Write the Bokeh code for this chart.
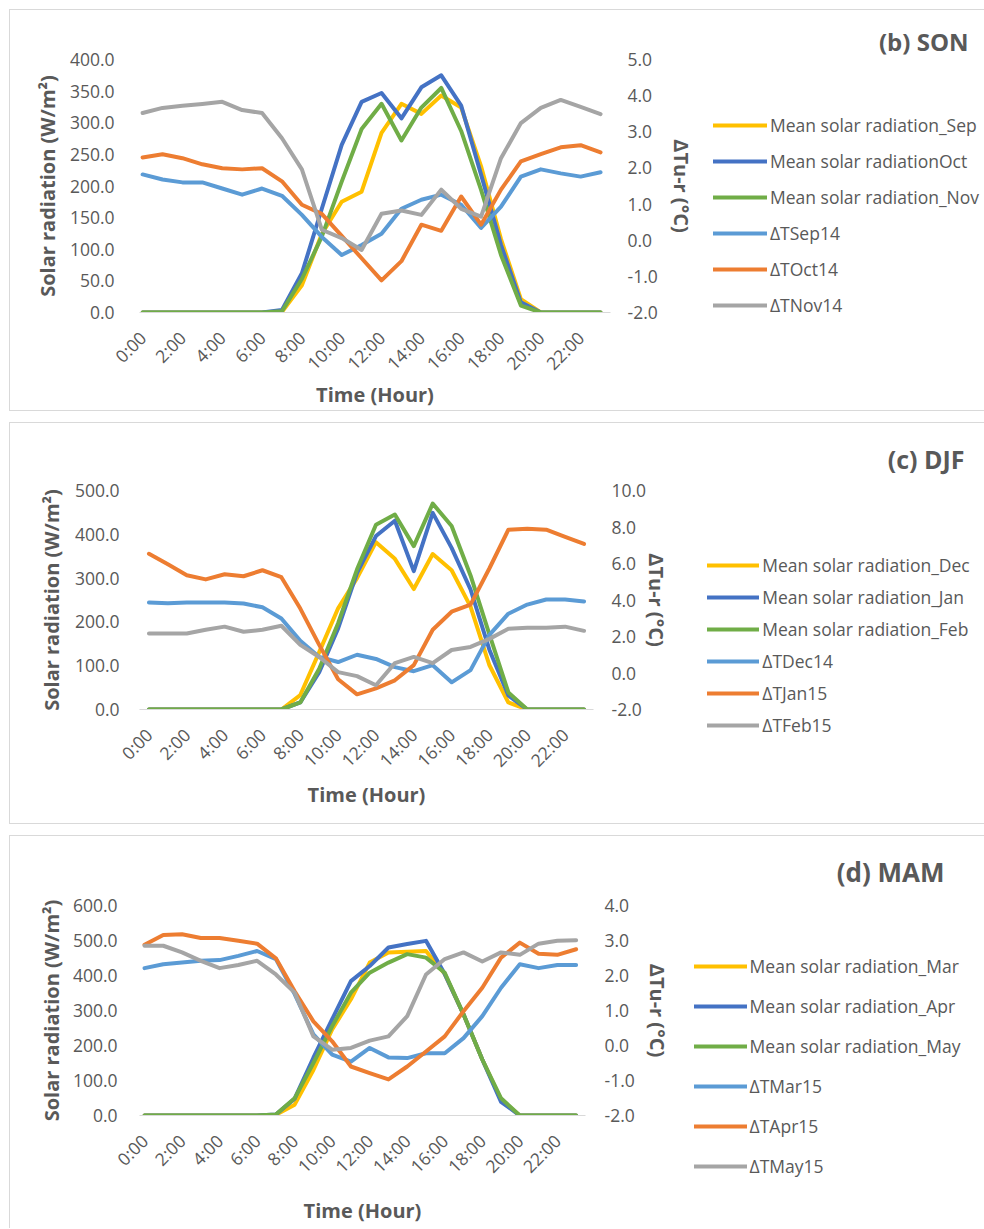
import math
from bokeh.plotting import figure
from bokeh.models import (Range1d, LinearAxis, FixedTicker, PrintfTickFormatter,
                          Legend, LegendItem, Title, ColumnDataSource)
from bokeh.layouts import column
from bokeh.embed import file_html
from bokeh.resources import INLINE

# ---------------- data ----------------
hours = list(range(24))
hour_ticks = [0, 2, 4, 6, 8, 10, 12, 14, 16, 18, 20, 22]
hour_labels = ["0:00", "2:00", "4:00", "6:00", "8:00", "10:00", "12:00",
               "14:00", "16:00", "18:00", "20:00", "22:00"]

# (b) SON
son_names = ["Mean solar radiation_Sep", "Mean solar radiationOct", "Mean solar radiation_Nov",
             "\u0394TSep14", "\u0394TOct14", "\u0394TNov14"]
sep_sr = [0, 0, 0, 0, 0, 0, 0, 1, 43, 124, 175, 191, 284, 330, 314, 343, 324, 231, 116, 21, 0, 0, 0, 0]
oct_sr = [0, 0, 0, 0, 0, 0, 0, 4, 62, 164, 265, 333, 347, 307, 356, 375, 327, 218, 107, 16, 0, 0, 0, 0]
nov_sr = [0, 0, 0, 0, 0, 0, 0, 2, 53, 120, 207, 290, 330, 272, 324, 355, 287, 194, 91, 11, 0, 0, 0, 0]
dt_sep14 = [1.82, 1.68, 1.60, 1.60, 1.43, 1.26, 1.43, 1.23, 0.70, 0.09, -0.41, -0.13,
            0.18, 0.87, 1.12, 1.26, 0.98, 0.34, 0.93, 1.76, 1.96, 1.85, 1.76, 1.88]
dt_oct14 = [2.29, 2.38, 2.27, 2.10, 1.99, 1.96, 1.99, 1.63, 0.98, 0.73, 0.12, -0.50,
            -1.11, -0.58, 0.43, 0.26, 1.21, 0.43, 1.40, 2.18, 2.38, 2.57, 2.63, 2.43]
dt_nov14 = [3.52, 3.66, 3.72, 3.77, 3.83, 3.60, 3.52, 2.82, 1.96, 0.29, 0.06, -0.27,
            0.73, 0.82, 0.70, 1.40, 0.87, 0.65, 2.27, 3.24, 3.66, 3.88, 3.69, 3.49]

# (c) DJF
djf_names = ["Mean solar radiation_Dec", "Mean solar radiation_Jan", "Mean solar radiation_Feb",
             "\u0394TDec14", "\u0394TJan15", "\u0394TFeb15"]
dec_sr = [0, 0, 0, 0, 0, 0, 0, 0, 33, 131, 231, 300, 382, 344, 275, 355, 318, 235, 101, 16, 0, 0, 0, 0]
jan_sr = [0, 0, 0, 0, 0, 0, 0, 0, 16, 85, 185, 312, 396, 431, 316, 449, 369, 274, 136, 32, 0, 0, 0, 0]
feb_sr = [0, 0, 0, 0, 0, 0, 0, 0, 16, 93, 197, 320, 422, 445, 373, 470, 419, 306, 171, 39, 0, 0, 0, 0]
dt_dec14 = [3.86, 3.82, 3.86, 3.86, 3.86, 3.81, 3.60, 2.99, 1.76, 0.88, 0.60, 1.00,
            0.77, 0.32, 0.10, 0.43, -0.51, 0.16, 2.09, 3.25, 3.75, 4.03, 4.03, 3.92]
dt_jan15 = [6.53, 5.96, 5.36, 5.13, 5.41, 5.30, 5.63, 5.25, 3.53, 1.54, -0.34, -1.17,
            -0.84, -0.40, 0.43, 2.37, 3.36, 3.75, 5.74, 7.85, 7.90, 7.85, 7.46, 7.07]
dt_feb15 = [2.16, 2.16, 2.16, 2.37, 2.54, 2.26, 2.37, 2.59, 1.54, 0.88, 0.05, -0.17,
            -0.67, 0.54, 0.88, 0.54, 1.26, 1.43, 1.87, 2.42, 2.48, 2.48, 2.54, 2.31]

# (d) MAM
mam_names = ["Mean solar radiation_Mar", "Mean solar radiation_Apr", "Mean solar radiation_May",
             "\u0394TMar15", "\u0394TApr15", "\u0394TMay15"]
mar_sr = [0, 0, 0, 0, 0, 0, 0, 2, 31, 130, 246, 332, 437, 466, 468, 470, 404, 289, 160, 45, 0, 0, 0, 0]
apr_sr = [0, 0, 0, 0, 0, 0, 0, 3, 48, 165, 275, 384, 427, 480, 490, 499, 404, 289, 160, 39, 0, 0, 0, 0]
may_sr = [0, 0, 0, 0, 0, 0, 0, 3, 49, 150, 255, 351, 408, 437, 461, 451, 408, 289, 160, 49, 0, 0, 0, 0]
dt_mar15 = [2.21, 2.32, 2.37, 2.42, 2.44, 2.56, 2.70, 2.47, 1.47, 0.32, -0.26, -0.46,
            -0.07, -0.34, -0.36, -0.22, -0.22, 0.21, 0.84, 1.65, 2.32, 2.21, 2.30, 2.30]
dt_apr15 = [2.88, 3.16, 3.18, 3.07, 3.07, 2.99, 2.91, 2.49, 1.55, 0.69, 0.12, -0.60,
            -0.79, -0.97, -0.60, -0.17, 0.26, 0.98, 1.65, 2.51, 2.94, 2.62, 2.59, 2.75]
dt_may15 = [2.85, 2.85, 2.66, 2.42, 2.21, 2.30, 2.42, 2.03, 1.51, 0.26, -0.12, -0.07,
            0.14, 0.26, 0.84, 2.03, 2.47, 2.66, 2.40, 2.66, 2.59, 2.91, 2.99, 3.01]

left_ticks_b = [0, 50, 100, 150, 200, 250, 300, 350, 400]
right_ticks_b = [-2, -1, 0, 1, 2, 3, 4, 5]
left_ticks_c = [0, 100, 200, 300, 400, 500]
right_ticks_c = [-2, 0, 2, 4, 6, 8, 10]
left_ticks_d = [0, 100, 200, 300, 400, 500, 600]
right_ticks_d = [-2, -1, 0, 1, 2, 3, 4]

# ---------------- style ----------------
FONT = "Open Sans"
TXT = "#595959"
COLORS = ["#FFC000", "#4472C4", "#70AD47", "#5B9BD5", "#ED7D31", "#A5A5A5"]
W = 974
FL = 129
BORDER = "1px solid #d9d9d9"


def make_panel(sr, dt, names, lticks, rticks, title, g):
    fw, fh, ft, height = g["fw"], g["fh"], g["ft"], g["height"]
    p = figure(frame_width=fw, frame_height=fh, output_backend="svg", toolbar_location=None,
               x_range=Range1d(g["x0"], 23.5), y_range=Range1d(lticks[0], lticks[-1]),
               min_border_left=FL, min_border_top=ft,
               min_border_right=W - FL - fw, min_border_bottom=height - ft - fh,
               background_fill_color="white", border_fill_color="white",
               title=None)
    p.margin = g["margin"]
    p.styles = g["styles"]
    p.outline_line_color = None
    p.xgrid.visible = False
    p.ygrid.visible = False
    p.extra_y_ranges = {"dt": Range1d(rticks[0], rticks[-1])}

    src = ColumnDataSource(dict(h=hours, s0=sr[0], s1=sr[1], s2=sr[2],
                                t0=dt[0], t1=dt[1], t2=dt[2]))
    items = []
    keys = ["s0", "s1", "s2", "t0", "t1", "t2"]
    for i, k in enumerate(keys):
        kw = {} if i < 3 else {"y_range_name": "dt"}
        r = p.line(x="h", y=k, source=src, line_color=COLORS[i], line_width=4,
                   line_join="round", line_cap="round", **kw)
        items.append(LegendItem(label=names[i], renderers=[r]))

    # x axis
    xa = p.xaxis[0]
    xa.ticker = FixedTicker(ticks=hour_ticks)
    xa.major_label_overrides = {t: l for t, l in zip(hour_ticks, hour_labels)}
    xa.major_label_orientation = math.pi / 4
    xa.axis_line_color = "#d9d9d9"
    xa.axis_line_width = 1
    xa.major_label_standoff = 22
    xa.axis_label = "Time (Hour)"
    xa.axis_label_standoff = g["xs"]

    # left axis
    ya = p.yaxis[0]
    ya.ticker = FixedTicker(ticks=lticks)
    ya.formatter = PrintfTickFormatter(format="%.1f")
    ya.axis_label = "Solar radiation (W/m\u00b2)"
    ya.major_label_standoff = g["lst"]
    ya.axis_label_standoff = g["ls"]

    # right axis
    ra = LinearAxis(y_range_name="dt")
    ra.ticker = FixedTicker(ticks=rticks)
    ra.formatter = PrintfTickFormatter(format="%.1f")
    ra.axis_label = "\u0394Tu-r (\u00b0C)"
    ra.major_label_standoff = g["rst"]
    ra.axis_label_standoff = g["rs"]
    p.add_layout(ra, "right")

    for ax in (xa, ya, ra):
        ax.major_label_text_font = FONT
        ax.major_label_text_font_size = "17.5px"
        ax.major_label_text_color = TXT
        ax.axis_label_text_font = FONT
        ax.axis_label_text_font_size = "20px"
        ax.axis_label_text_font_style = "bold"
        ax.axis_label_text_color = TXT
        ax.major_tick_line_color = None
        ax.minor_tick_line_color = None
        ax.major_tick_out = 0
        ax.major_tick_in = 0
        ax.minor_tick_out = 0
        ax.minor_tick_in = 0
    ya.axis_line_color = None
    ra.axis_line_color = None

    legend = Legend(items=items, location=(g["lx"], g["ly"]), orientation="vertical",
                    border_line_color=None, background_fill_alpha=0, padding=0, margin=0,
                    spacing=g["lsp"], glyph_width=g["gw"], glyph_height=24,
                    label_height=24, label_standoff=3,
                    label_text_font=FONT, label_text_font_size="17.5px",
                    label_text_color=TXT)
    p.add_layout(legend, "right")

    p.add_layout(Title(text=title, align="right", offset=g["toff"], standoff=g["tst"],
                       text_font=FONT, text_font_size=g["tfs"], text_font_style="bold",
                       text_color=TXT), "above")
    return p


geo_b = dict(fw=470, fh=251, ft=49, height=400, x0=-0.156, xs=-5, lst=25, ls=6,
             rst=17, rs=7, lx=-207, ly=-5, lsp=12, gw=54, toff=-358, tst=4, tfs="24px",
             margin=(9, 0, 0, 9),
             styles={"border-top": BORDER, "border-left": BORDER, "border-bottom": BORDER})
geo_c = dict(fw=453, fh=217, ft=67, height=400, x0=-0.5, xs=-2, lst=20, ls=7,
             rst=18, rs=-6, lx=-190, ly=-28, lsp=8, gw=52, toff=-371, tst=30, tfs="25px",
             margin=(11, 0, 0, 9),
             styles={"border-top": BORDER, "border-left": BORDER, "border-bottom": BORDER})
geo_d = dict(fw=445, fh=209, ft=69, height=392, x0=-0.267, xs=8, lst=22, ls=5,
             rst=19, rs=6, lx=-203, ly=-63, lsp=16, gw=53, toff=-359, tst=31, tfs="26px",
             margin=(11, 0, 0, 9),
             styles={"border-top": BORDER, "border-left": BORDER})

pb = make_panel([sep_sr, oct_sr, nov_sr], [dt_sep14, dt_oct14, dt_nov14], son_names,
                left_ticks_b, right_ticks_b, "(b) SON", geo_b)
pc = make_panel([dec_sr, jan_sr, feb_sr], [dt_dec14, dt_jan15, dt_feb15], djf_names,
                left_ticks_c, right_ticks_c, "(c) DJF", geo_c)
pd_ = make_panel([mar_sr, apr_sr, may_sr], [dt_mar15, dt_apr15, dt_may15], mam_names,
                 left_ticks_d, right_ticks_d, "(d) MAM", geo_d)

layout = column(pb, pc, pd_)
open("out.html", "w").write(file_html(layout, INLINE))
